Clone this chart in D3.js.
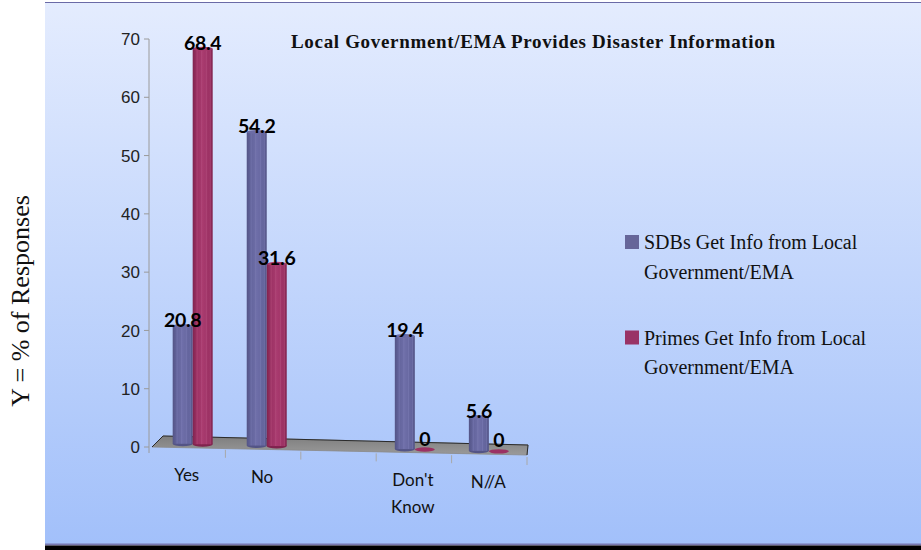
<!DOCTYPE html>
<html>
<head>
<meta charset="utf-8">
<script src="https://cdn.jsdelivr.net/npm/d3@7"></script>
<style>
  html, body { margin: 0; padding: 0; background: #fff; }
  svg { display: block; }
</style>
</head>
<body>
<div id="chart"></div>
<script>
const categories = ["Yes", "No", "", "Don't Know", "N//A"]
const categoryLines = [["Yes"], ["No"], [], ["Don't", "Know"], ["N//A"]]
const sdbValues = [20.8, 54.2, null, 19.4, 5.6]
const primeValues = [68.4, 31.6, null, 0, 0]
const seriesKeys = ["sdb", "prime"]
const seriesLabels = [["SDBs Get Info from Local", "Government/EMA"], ["Primes Get Info from Local", "Government/EMA"]]
const seriesColors = ["#666699", "#993366"]
const yTicks = [0, 10, 20, 30, 40, 50, 60, 70]
const chartTitle = "Local Government/EMA Provides Disaster Information"
const yTitle = "Y = % of Responses"

const W = 921, H = 550

const svg = d3.select("#chart").append("svg")
    .attr("width", W)
    .attr("height", H)

const defs = svg.append("defs")

// panel background
const bg = defs.append("linearGradient").attr("id", "bg")
    .attr("x1", 0).attr("y1", 0).attr("x2", 0).attr("y2", 1)
bg.append("stop").attr("offset", "0%").attr("stop-color", "#e4ecfe")
bg.append("stop").attr("offset", "100%").attr("stop-color", "#a2c0fa")

svg.append("rect")
    .attr("x", 45).attr("y", 2)
    .attr("width", W - 45).attr("height", 542)
    .attr("fill", "url(#bg)")
svg.append("line")
    .attr("x1", 45).attr("x2", W).attr("y1", 2.5).attr("y2", 2.5)
    .attr("stroke", "#6a6aa6").attr("stroke-width", 1.2)
svg.append("rect")
    .attr("x", 45).attr("y", 543.5).attr("width", W - 45).attr("height", 2)
    .attr("fill", "#7878b0")
svg.append("rect")
    .attr("x", 45).attr("y", 545.5).attr("width", W - 45).attr("height", 5)
    .attr("fill", "#000")

// cylinder shading
const shades = {
    sdb: { dark: "#535486", base: "#63649c", light: "#6e6ea8", line: "#8a8ac2", cap: "#6c6ca6" },
    prime: { dark: "#80234e", base: "#9b3163", light: "#a93b6f", line: "#c4628e", cap: "#a63a6c" }
}
seriesKeys.forEach(k => {
    const g = defs.append("linearGradient").attr("id", "cyl-" + k)
        .attr("x1", 0).attr("y1", 0).attr("x2", 1).attr("y2", 0)
    g.append("stop").attr("offset", "0%").attr("stop-color", shades[k].dark)
    g.append("stop").attr("offset", "20%").attr("stop-color", shades[k].base)
    g.append("stop").attr("offset", "50%").attr("stop-color", shades[k].light)
    g.append("stop").attr("offset", "85%").attr("stop-color", shades[k].base)
    g.append("stop").attr("offset", "100%").attr("stop-color", shades[k].dark)
})

const x = d3.scaleBand().domain(categories).range([150, 527])
const y = d3.scaleLinear().domain([0, 70]).range([447, 39])
const slope = 9 / 377
const x0 = x.range()[0], x1 = x.range()[1]
const frontY = px => y(0) + (px - x0) * slope
const baseY = px => frontY(px) - 4
const topY = (v, px) => y(v) + (px - x0) * 0.008
const barW = 20
const groupCenter = c => {
    const mid = x(c) + x.bandwidth() / 2
    return mid + 5 - (mid - 187) * 0.018
}

// floor
const floorPts = [[x0 + 2, y(0)], [x0 + 13, y(0) - 11], [x1 + 1, y(0) - 2], [x1, y(0) + 8]]
const floorGrad = defs.append("linearGradient").attr("id", "floor")
    .attr("x1", 0).attr("y1", 0).attr("x2", 0).attr("y2", 1)
floorGrad.append("stop").attr("offset", "0%").attr("stop-color", "#7e7e7e")
floorGrad.append("stop").attr("offset", "100%").attr("stop-color", "#9a9a9a")
svg.append("path")
    .attr("d", d3.line()(floorPts) + "Z")
    .attr("fill", "url(#floor)")
    .attr("stroke", "#8a8a8a")
    .attr("stroke-width", 0.8)
svg.append("path")
    .attr("d", d3.line()([floorPts[0], floorPts[1], floorPts[2], floorPts[3]]))
    .attr("fill", "none")
    .attr("stroke", "#2a2a2a")
    .attr("stroke-width", 1)

// y axis
svg.append("line")
    .attr("x1", 149).attr("x2", 149)
    .attr("y1", y(70)).attr("y2", y(0) + 6)
    .attr("stroke", "#9a9a9a").attr("stroke-width", 1)
const yAxis = svg.append("g")
yAxis.selectAll("line.tick").data(yTicks).enter().append("line")
    .attr("x1", 144).attr("x2", 149)
    .attr("y1", d => y(d)).attr("y2", d => y(d))
    .attr("stroke", "#9a9a9a")
yAxis.selectAll("text").data(yTicks).enter().append("text")
    .attr("x", 140).attr("y", d => y(d))
    .attr("dy", "0.36em")
    .attr("text-anchor", "end")
    .style("font-family", "'Liberation Sans', Arial, sans-serif")
    .style("font-size", "17px")
    .attr("fill", "#222")
    .text(d => d)

// x ticks at band edges
const edges = categories.map(c => x(c) + x.bandwidth())
svg.selectAll("line.xtick").data(edges).enter().append("line")
    .attr("x1", d => d).attr("x2", d => d)
    .attr("y1", d => frontY(d) + 1).attr("y2", d => frontY(d) + 9)
    .attr("stroke", "#a8a8a8")

// category labels
const catG = svg.selectAll("g.cat").data(categories).enter().append("g")
catG.each(function (c, i) {
    const cx = x(c) + x.bandwidth() / 2 - 1
    const base = frontY(cx) + 33
    d3.select(this).selectAll("text").data(categoryLines[i]).enter().append("text")
        .attr("x", cx)
        .attr("y", (d, j) => base + j * 26.5)
        .attr("text-anchor", "middle")
        .style("font-family", "Lato, sans-serif")
        .style("font-size", "17px")
        .attr("fill", "#111")
        .text(d => d)
})

// bars
const barData = []
categories.forEach((c, i) => {
    const gc = groupCenter(c)
    ;[sdbValues[i], primeValues[i]].forEach((v, s) => {
        if (v === null) return
        const bx = gc + (s === 0 ? -barW / 2 : barW / 2)
        barData.push({ key: seriesKeys[s], v, bx })
    })
})

const drawCylinder = (g, d) => {
    const left = d.bx - barW / 2
    const b = baseY(d.bx)
    if (d.v === 0) {
        g.append("ellipse")
            .attr("cx", d.bx).attr("cy", b)
            .attr("rx", barW / 2).attr("ry", 2.2)
            .attr("fill", shades[d.key].base)
        return
    }
    const t = topY(d.v, d.bx)
    g.append("ellipse")
        .attr("cx", d.bx).attr("cy", b)
        .attr("rx", barW / 2).attr("ry", 2.5)
        .attr("fill", shades[d.key].dark)
    g.append("rect")
        .attr("x", left).attr("y", t)
        .attr("width", barW).attr("height", b - t)
        .attr("fill", "url(#cyl-" + d.key + ")")
    ;[0.22, 0.45, 0.68, 0.88].forEach(f => {
        g.append("line")
            .attr("x1", left + barW * f).attr("x2", left + barW * f)
            .attr("y1", t + 1).attr("y2", b)
            .attr("stroke", shades[d.key].line)
            .attr("stroke-opacity", 0.45)
            .attr("stroke-width", 0.8)
    })
    g.append("ellipse")
        .attr("cx", d.bx).attr("cy", t)
        .attr("rx", barW / 2).attr("ry", 2)
        .attr("fill", shades[d.key].cap)
}

svg.selectAll("g.bar").data(barData).enter().append("g")
    .each(function (d) { drawCylinder(d3.select(this), d) })

// data labels
svg.selectAll("text.val").data(barData).enter().append("text")
    .attr("x", d => d.bx)
    .attr("y", d => d.v > 0 ? topY(d.v, d.bx) + 1 : baseY(d.bx) - 4)
    .attr("text-anchor", "middle")
    .style("font-family", "Lato, sans-serif")
    .style("font-weight", "bold")
    .style("font-size", "19.5px")
    .style("letter-spacing", "-0.3px")
    .attr("fill", "#000")
    .text(d => d.v)

// title
svg.append("text")
    .attr("x", 533).attr("y", 48)
    .attr("text-anchor", "middle")
    .attr("textLength", 484)
    .attr("lengthAdjust", "spacing")
    .style("font-family", "'Liberation Serif', 'Times New Roman', serif")
    .style("font-weight", "bold")
    .style("font-size", "19px")
    .attr("fill", "#111")
    .text(chartTitle)

// y title
svg.append("text")
    .attr("transform", "translate(29,301) rotate(-90)")
    .attr("text-anchor", "middle")
    .style("font-family", "'Liberation Serif', 'Times New Roman', serif")
    .style("font-size", "26px")
    .attr("fill", "#111")
    .text(yTitle)

// legend
const legend = svg.selectAll("g.legend").data(seriesKeys).enter().append("g")
    .attr("transform", (d, i) => "translate(625," + (235 + i * 95.5) + ")")
legend.append("rect")
    .attr("width", 14).attr("height", 14)
    .attr("fill", (d, i) => seriesColors[i])
legend.each(function (d, i) {
    d3.select(this).selectAll("text").data(seriesLabels[i]).enter().append("text")
        .attr("x", 19)
        .attr("y", (t, j) => 14 + j * 29.5)
        .style("font-family", "'Liberation Serif', 'Times New Roman', serif")
        .style("font-size", "20px")
        .attr("fill", "#111")
        .text(t => t)
})
</script>
</body>
</html>
